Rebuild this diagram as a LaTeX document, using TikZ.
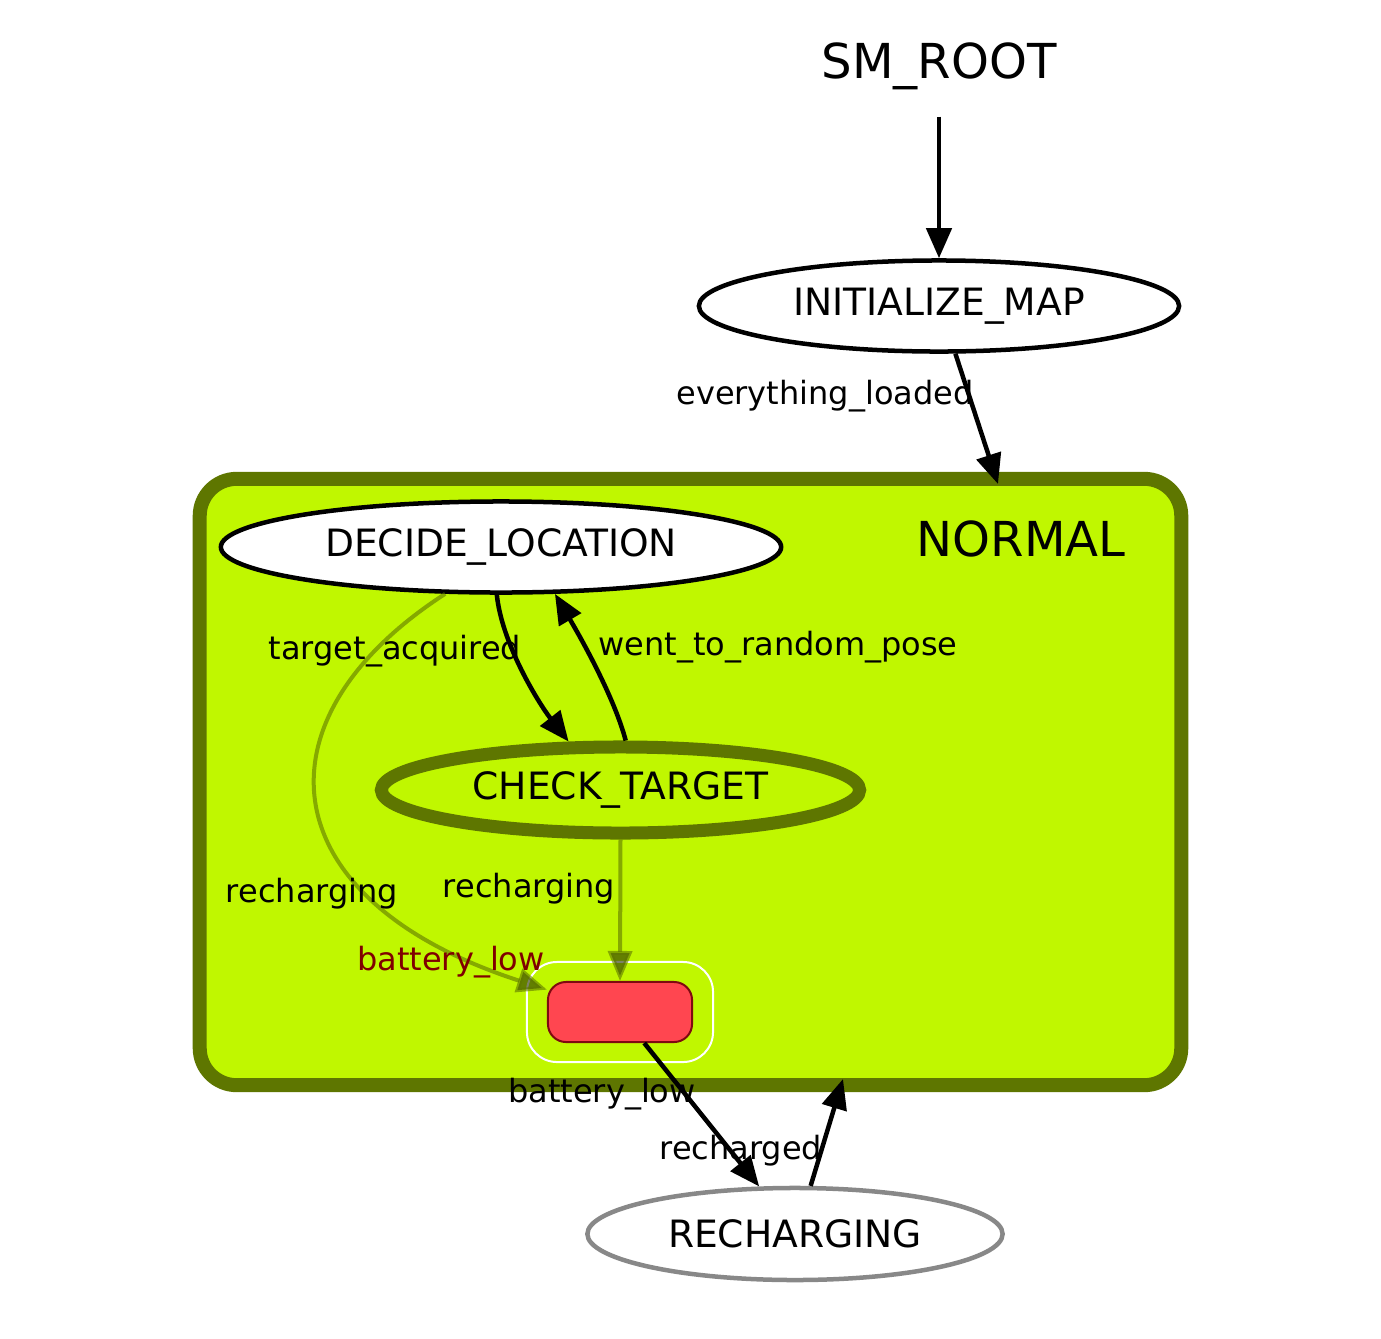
\documentclass[tikz,border=0pt]{standalone}
\usepackage{fontspec}
\setmainfont{DejaVu Sans}
\usetikzlibrary{shapes.geometric, arrows.meta}

\definecolor{limefill}{HTML}{C0F700}
\definecolor{olivedraw}{HTML}{5E7600}
\definecolor{redfill}{HTML}{FF4650}
\definecolor{reddraw}{HTML}{7F0A10}
\definecolor{redtext}{HTML}{7F0000}
\definecolor{graydraw}{HTML}{888888}

\begin{document}
\begin{tikzpicture}[x=0.01cm, y=-0.01cm,
    stato/.style={draw, ellipse, line width=0.045cm, inner sep=0pt, minimum height=0.91cm, font=\fontsize{10.7}{12}\selectfont},
    titolo/.style={inner sep=0pt, font=\fontsize{13.7}{16}\selectfont},
    etichetta/.style={inner sep=0pt, font=\fontsize{9.1}{11}\selectfont},
    freccia/.style={-{Triangle[length=0.3cm, width=0.25cm]}, line width=0.045cm},
    fantasma/.style={-{Triangle[length=0.3cm, width=0.24cm, fill=black!60!olivedraw]}, draw=olivedraw, line width=0.04cm, opacity=0.6}]
    \useasboundingbox (0,0) rectangle (1381,1339);

    % Contenitore NORMAL
    \node[draw=olivedraw, fill=limefill, line width=0.14cm, rounded corners=0.37cm, minimum width=9.81cm, minimum height=6.06cm] (normal) at (690.5,782) {};
    \node[titolo] (normal_lbl) at (1021,539) {NORMAL};
    \coordinate (normal_in) at (998,484);
    \coordinate (normal_out) at (843,1079);

    % Stati
    \node[titolo, minimum height=1cm] (sm_root) at (939,66) {SM\_ROOT};
    \node[stato, fill=white, minimum width=4.8cm] (init) at (939,306) {INITIALIZE\_MAP};
    \node[stato, fill=white, minimum width=5.6cm] (decide) at (501,547) {DECIDE\_LOCATION};
    \node[stato, fill=limefill, draw=olivedraw, line width=0.13cm, minimum width=4.78cm, minimum height=0.86cm] (check) at (620.5,790) {CHECK\_TARGET};
    \node[stato, fill=white, draw=graydraw, minimum width=4.15cm, minimum height=0.92cm] (recharging) at (795,1234) {RECHARGING};

    % Stato di uscita
    \node[draw=white, line width=0.02cm, rounded corners=0.3cm, minimum width=1.86cm, minimum height=1cm] (redframe) at (620,1012) {};
    \node[draw=reddraw, fill=redfill, line width=0.02cm, rounded corners=0.18cm, minimum width=1.44cm, minimum height=0.6cm] (redbox) at (620,1012) {};

    % Transizioni
    \draw[freccia] (sm_root.south) -- (init.north);
    \draw[freccia] (init.-71) -- (normal_in);
    \draw[freccia] (decide.-95.7) .. controls (502,645) and (540,705) .. (check.137);
    \draw[freccia] (check.84) .. controls (615,700) and (585,645) .. (decide.-41);
    \draw[fantasma] (decide.-140) .. controls (250,720) and (270,900) .. (redbox.163);
    \draw[fantasma] (check.south) -- (redbox.north);
    \draw[freccia] (redbox.-52.5) -- (recharging.127);
    \draw[freccia] (recharging.72) -- (normal_out);

    % Etichette
    \node[etichetta] (lbl_loaded) at (825,396) {everything\_loaded};
    \node[etichetta] (lbl_target) at (395,651) {target\_acquired};
    \node[etichetta] (lbl_random) at (778,647) {went\_to\_random\_pose};
    \node[etichetta] (lbl_rech_a) at (312,894) {recharging};
    \node[etichetta] (lbl_rech_b) at (529,889) {recharging};
    \node[etichetta, text=redtext] (lbl_low_a) at (451,962) {battery\_low};
    \node[etichetta] (lbl_low_b) at (602,1094) {battery\_low};
    \node[etichetta] (lbl_recharged) at (741,1151) {recharged};
\end{tikzpicture}
\end{document}
